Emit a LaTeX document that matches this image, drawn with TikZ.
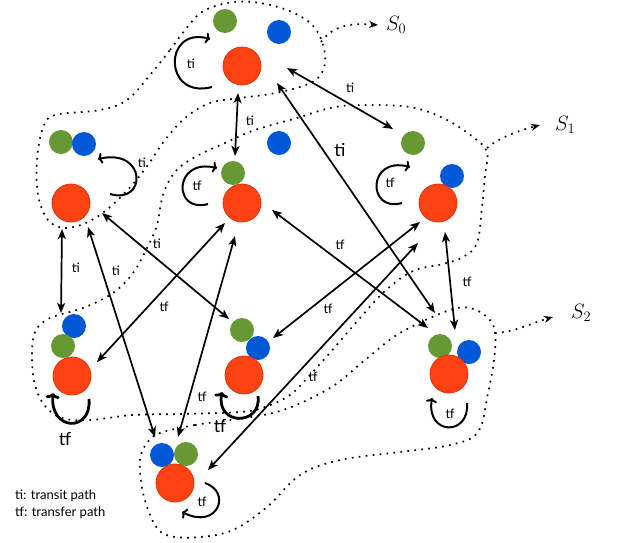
\documentclass[tikz,border=0pt]{standalone}
\usepackage{fontspec}
\setmainfont{Lato}
\usetikzlibrary{arrows.meta}
\definecolor{gcol}{RGB}{102,153,51}
\definecolor{bcol}{RGB}{0,88,214}
\definecolor{rcol}{RGB}{255,66,18}
\definecolor{rbord}{RGB}{225,50,10}
\begin{document}
\begin{tikzpicture}[x=1pt,y=-1pt,
  gdot/.style={circle,fill=gcol,minimum size=24pt,inner sep=0pt},
  bdot/.style={circle,fill=bcol,minimum size=24pt,inner sep=0pt},
  rdot/.style={circle,fill=rcol,draw=rbord,line width=0.8pt,minimum size=38pt,inner sep=0pt},
  link/.style={line width=1.7pt,{Stealth[length=10pt,width=8pt,inset=2.5pt]}-{Stealth[length=10pt,width=8pt,inset=2.5pt]}},
  selfloop/.style={line width=2pt,-{To[length=4.5pt,width=11pt]}},
  bigloop/.style={line width=2.8pt,-{To[length=5.5pt,width=14pt]}},
  lab/.style={font=\fontsize{13}{15}\selectfont,inner sep=0pt},
  biglab/.style={font=\fontsize{18}{21}\selectfont,inner sep=0pt},
  setline/.style={line width=1.7pt,dash pattern=on 1.7pt off 5.3pt},
  setptr/.style={setline,-{Stealth[length=9pt,width=7pt]}},
  setlab/.style={font=\fontsize{20}{24}\selectfont,inner sep=0pt}]
\useasboundingbox (0,0) rectangle (618,542);

% ---- set outlines ----
\draw[setline] plot[smooth cycle,tension=0.6] coordinates {(150,75) (170,50) (185,30) (202,12) (227,3) (252,2) (278,7) (300,16) (315,28) (323,45) (325,63) (318,78) (300,87) (270,94) (240,98) (210,103) (185,118) (165,140) (150,162) (133,184) (110,207) (88,222) (65,228) (48,220) (38,195) (37,160) (43,128) (55,115) (100,110) (127,100)};
\draw[setline] plot[smooth cycle,tension=0.6] coordinates {(297,118) (330,108) (360,105) (410,107) (445,119) (473,137) (487,152) (485,175) (482,207) (477,243) (463,257) (443,264) (413,271) (385,291) (360,318) (335,347) (310,375) (290,395) (265,407) (240,412) (180,414) (133,415) (90,420) (62,418) (45,406) (35,385) (32,357) (35,332) (50,318) (83,308) (113,293) (133,273) (147,248) (157,225) (163,195) (175,172) (195,157) (225,143) (255,130)};
\draw[setline] plot[smooth cycle,tension=0.6] coordinates {(160,433) (195,425) (230,420) (280,411) (330,388) (365,360) (400,333) (447,311) (470,308) (488,318) (495,332) (494,360) (488,393) (478,432) (450,445) (400,452) (340,460) (300,475) (267,507) (233,530) (200,537) (170,536) (155,525) (143,493) (140,460) (147,443)};

\coordinate (p0a) at (321,42);
\coordinate (p0b) at (378,25);
\coordinate (p1a) at (487,148);
\coordinate (p1b) at (540,125);
\coordinate (p2a) at (495,333);
\coordinate (p2b) at (553,317);
\draw[setptr] (p0a) .. controls (333,26) and (348,23) .. (p0b);
\draw[setptr] (p1a) .. controls (500,137) and (518,131) .. (p1b);
\draw[setptr] (p2a) .. controls (515,332) and (532,323) .. (p2b);
\node[setlab,anchor=west] (s0) at (386,25) {$S_0$};
\node[setlab,anchor=west] (s1) at (555,125) {$S_1$};
\node[setlab,anchor=west] (s2) at (571,313) {$S_2$};

% ---- groups ----
\node[gdot] (tG) at (225,21) {};
\node[bdot] (tB) at (279,32) {};
\node[rdot] (tR) at (242,66) {};

\node[gdot] (aG) at (61,142) {};
\node[bdot] (aB) at (84,144) {};
\node[rdot] (aR) at (71,203) {};

\node[bdot] (cB) at (279,143) {};
\node[gdot] (cG) at (233,173) {};
\node[rdot] (cR) at (242,203) {};

\node[gdot] (rG) at (413,143) {};
\node[bdot] (rB) at (452,176) {};
\node[rdot] (rR) at (438,203) {};

\node[bdot] (dB) at (74,326) {};
\node[gdot] (dG) at (63,346) {};
\node[rdot] (dR) at (72,376) {};

\node[gdot] (eG) at (242,330) {};
\node[bdot] (eB) at (258,348) {};
\node[rdot] (eR) at (244,375) {};

\node[gdot] (fG) at (440,346) {};
\node[bdot] (fB) at (469,352) {};
\node[rdot] (fR) at (449,374) {};

\node[bdot] (hB) at (162,455) {};
\node[gdot] (hG) at (186,454) {};
\node[rdot] (hR) at (175,483) {};

% ---- self loops ----
\draw[selfloop] (212,87) .. controls (163,100) and (163,26) .. (210,39);
\draw[selfloop] (110,194) .. controls (147,205) and (147,148) .. (98,159);
\draw[selfloop] (208,204) .. controls (173,214) and (173,158) .. (217,168);
\draw[selfloop] (402,203) .. controls (367,213) and (367,156) .. (410,167);
\draw[bigloop] (89,399) .. controls (92,432) and (50,432) .. (53,393);
\draw[bigloop] (258,396) .. controls (262,426) and (216,426) .. (222,392);
\draw[selfloop] (467,403) .. controls (470,436) and (426,436) .. (432,398);
\draw[selfloop] (205,483) .. controls (232,492) and (218,530) .. (182,512);

\node[lab] (lt) at (191,64) {ti};
\node[lab] (la) at (142,163) {ti};
\node[lab] (lc) at (197,186) {tf};
\node[lab] (lr) at (390,183) {tf};
\node[biglab] (ld) at (65,439) {tf};
\node[biglab] (le) at (220,426) {tf};
\node[lab] (lf) at (450,414) {tf};
\node[lab] (lh) at (202,502) {tf};

% ---- connectors ----
\coordinate (e1a) at (238,93);  \coordinate (e1b) at (235,156);
\coordinate (e2a) at (287,68);  \coordinate (e2b) at (393,129);
\coordinate (e3a) at (277,83);  \coordinate (e3b) at (435,313);
\coordinate (e4a) at (62,229);  \coordinate (e4b) at (61,313);
\coordinate (e5a) at (102,213); \coordinate (e5b) at (229,319);
\coordinate (e6a) at (88,227);  \coordinate (e6b) at (155,437);
\coordinate (e7a) at (225,223); \coordinate (e7b) at (97,362);
\coordinate (e8a) at (235,236); \coordinate (e8b) at (178,437);
\coordinate (e9a) at (272,210); \coordinate (e9b) at (428,328);
\coordinate (e10a) at (420,222); \coordinate (e10b) at (273,338);
\coordinate (e11a) at (418,243); \coordinate (e11b) at (208,470);
\coordinate (e12a) at (445,232); \coordinate (e12b) at (455,330);
\draw[link] (e1a) -- (e1b);
\draw[link] (e2a) -- (e2b);
\draw[link] (e3a) -- (e3b);
\draw[link] (e4a) -- (e4b);
\draw[link] (e5a) -- (e5b);
\draw[link] (e6a) -- (e6b);
\draw[link] (e7a) -- (e7b);
\draw[link] (e8a) -- (e8b);
\draw[link] (e9a) -- (e9b);
\draw[link] (e10a) -- (e10b);
\draw[link] (e11a) -- (e11b);
\draw[link] (e12a) -- (e12b);

\node[lab] (m1) at (250,121) {ti};
\node[lab] (m2) at (350,88) {ti};
\node[biglab] (m3) at (340,150) {ti};
\node[lab] (m4) at (76,268) {ti};
\node[lab] (m5) at (157,244) {ti};
\node[lab] (m6) at (116,271) {ti};
\node[lab] (m7) at (164,307) {tf};
\node[lab] (m8) at (202,397) {tf};
\node[lab] (m9) at (340,245) {tf};
\node[lab] (m10) at (328,309) {tf};
\node[lab] (m11) at (313,377) {tf};
\node[lab] (m12) at (467,282) {tf};

% ---- legend ----
\node[lab,anchor=west] (leg1) at (15,496) {ti: transit path};
\node[lab,anchor=west] (leg2) at (15,513) {tf: transfer path};
\end{tikzpicture}
\end{document}
